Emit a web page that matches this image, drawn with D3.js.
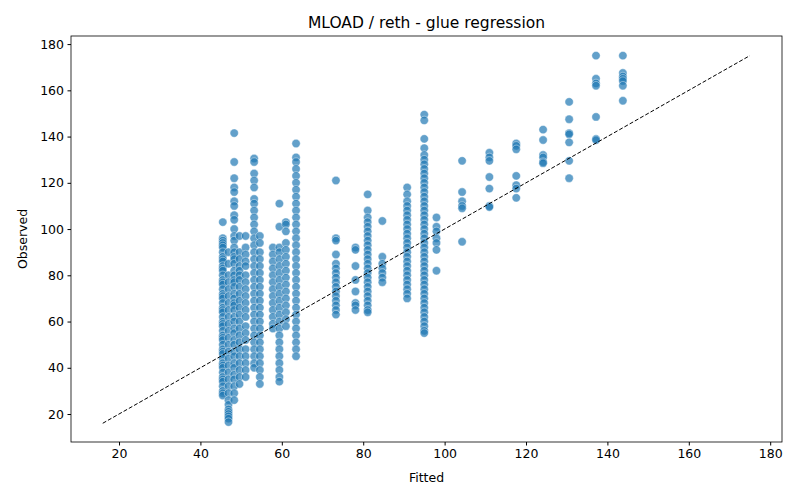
<!DOCTYPE html>
<html>
<head>
<meta charset="utf-8">
<script src="https://cdn.jsdelivr.net/npm/d3@7"></script>
<style>
  body { margin: 0; background: #fff; }
  text { font-family: "DejaVu Sans", sans-serif; }
</style>
</head>
<body>
<svg id="chart"></svg>
<script>
const fitted = [45.5, 46.9, 48.3, 49.6, 51.1, 53.2, 54.6, 57.8, 59.4, 61, 63.5,
    73.3, 78.1, 81.1, 84.7, 90.8, 95, 98, 104.3, 111, 117.6, 124.2, 130.6, 137.2, 143.8];
const observed = [
    [103,96,95,94,93,92,90,88,87,86,84,83,82,80,78,77,76,74,72,71,70,68,66,65,64,62,60,59,58,56,54,53,52,50,48,47,46,44,42,41,40,38,36,35,34,32,30,29,28],
    [90,85,80,77,74,71,68,65,62,59,56,53,50,47,44,41,38,35,32,29,26,24,22,21,20,19,18,16.5],
    [141.5,129,122,118,116,112,110,106,104,100,97,95,92,90,88,87,85,82,80,78,77,75,72,70,68,67,65,62,60,57,55,52,50,47,45,42,40,37,35,32,29,26],
    [97,90,87,84,82,80,78,75,72,69,66,63,60,57,54,51,48,45,42,39,36,33],
    [97,92,89,86,84,80,77,74,71,68,65,62,58,55,52,48,45,42,39,36],
    [130.5,129,124,121,118,113,111,108,105,102,99,96,93,90,87,84,81,78,75,72,69,66,63,60,57,54,51,48,45,42,40],
    [97,94,90,87,84,81,78,75,72,69,66,63,60,57,54,51,48,45,42,39,36,33],
    [92,89,86,83,80,77,74,71,68,65,62,59,57],
    [111,101,92,90,87,84,81,78,75,72,69,66,63,60,57,54,51,48,45,42,39,36,34],
    [103,102,99,94,91,88,85,82,79,76,73,70,67,64,61,58],
    [137,131,129,126,123,120,117,114,111,108,105,102,99,96,93,90,87,84,81,78,75,72,69,66,63,60,57,54,51,48,45],
    [121,96,95,89,85,83,81,79,77,75,73,71,69,67,65,63],
    [92,91,84,78,73,68,67,65],
    [115,108,105,103,101,99,97,95,93,91,89,87,85,83,81,79,77,75,73,71,69,67,65,64],
    [103.5,88,85,83,81,79,77],
    [118,115,112,110,108,106,104,102,100,98,96,94,92,90,88,86,84,82,80,78,76,74,72,70],
    [149.5,147,139,135,132,130,128,126,124,122,120,118,116,114,112,110,108,106,104,102,100,98,96,94,92,90,88,86,84,82,80,78,76,74,72,70,68,66,64,62,60,58,56,55],
    [105,101,99,96,94,91,82],
    [129.5,116,112,110,109,94.5],
    [133,131,129.5,122.5,117.5,110,109.5],
    [137,136,134.5,123,119,117.5,113.5],
    [143,138.5,132,131,129,128.5],
    [155,147.5,141.5,141,137.5,129.5,122],
    [175,165,163,162,148.5,139,138.5],
    [175,167.5,166,165,164,162,155.5]
];
const xTicks = [20, 40, 60, 80, 100, 120, 140, 160, 180];
const yTicks = [20, 40, 60, 80, 100, 120, 140, 160, 180];

const width = 800, height = 500;
const margin = {top: 36, right: 18, bottom: 58, left: 71};
const innerWidth = width - margin.left - margin.right;
const innerHeight = height - margin.top - margin.bottom;

const points = fitted.flatMap((f, i) => observed[i].map(o => ({x: f, y: o})));
const lo = d3.min(points, d => Math.min(d.x, d.y)) - 0.5;
const hi = d3.max(points, d => Math.max(d.x, d.y));

const xScale = d3.scaleLinear().domain([8.2, 182.9]).range([0, innerWidth]);
const yScale = d3.scaleLinear().domain([7.9, 183.5]).range([innerHeight, 0]);

const svg = d3.select('#chart').attr('width', width).attr('height', height);
const g = svg.append('g').attr('transform', `translate(${margin.left}, ${margin.top})`);

g.selectAll('.point')
    .data(points)
    .enter()
    .append('circle')
    .attr('cx', d => xScale(d.x))
    .attr('cy', d => yScale(d.y))
    .attr('r', 4.2)
    .attr('fill', '#1f77b4')
    .attr('fill-opacity', 0.7)
    .attr('stroke', '#fff')
    .attr('stroke-opacity', 0.7)
    .attr('stroke-width', 0.6);

// identity line
g.append('line')
    .attr('x1', xScale(lo)).attr('y1', yScale(lo))
    .attr('x2', xScale(hi)).attr('y2', yScale(hi))
    .attr('stroke', '#000')
    .attr('stroke-width', 1)
    .attr('stroke-dasharray', '4,2');

const xAxis = g.append('g')
    .attr('transform', `translate(0, ${innerHeight})`)
    .call(d3.axisBottom(xScale).tickValues(xTicks).tickSize(3.5).tickPadding(3.5));
const yAxis = g.append('g')
    .call(d3.axisLeft(yScale).tickValues(yTicks).tickSize(3.5).tickPadding(3.5));
[xAxis, yAxis].forEach(a => {
    a.select('.domain').remove();
    a.selectAll('text').attr('font-size', 12.5).attr('font-family', 'DejaVu Sans').attr('fill', '#000');
});

g.append('rect')
    .attr('width', innerWidth).attr('height', innerHeight)
    .attr('fill', 'none').attr('stroke', '#000').attr('stroke-width', 0.8);

svg.append('text')
    .attr('x', margin.left + innerWidth / 2).attr('y', 28)
    .attr('text-anchor', 'middle').attr('font-size', 15.5)
    .text('MLOAD / reth - glue regression');
svg.append('text')
    .attr('x', margin.left + innerWidth / 2).attr('y', 482)
    .attr('text-anchor', 'middle').attr('font-size', 12.5)
    .text('Fitted');
svg.append('text')
    .attr('transform', `translate(27, ${margin.top + innerHeight / 2}) rotate(-90)`)
    .attr('text-anchor', 'middle').attr('font-size', 12.5)
    .text('Observed');
</script>
</body>
</html>
